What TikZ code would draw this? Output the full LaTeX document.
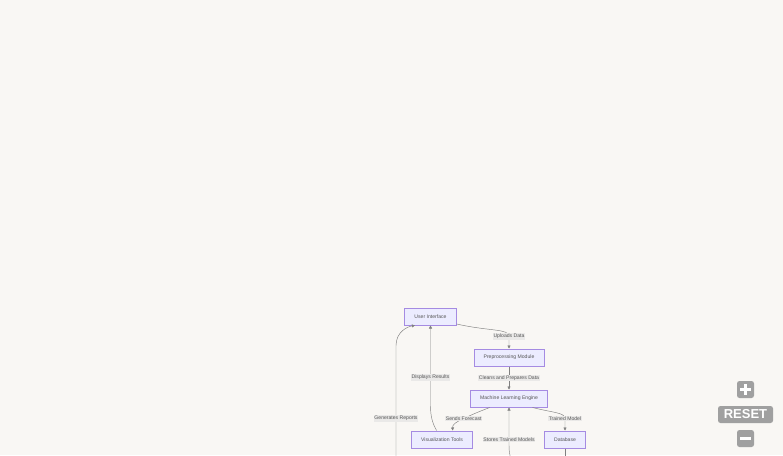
\documentclass[tikz,border=0pt]{standalone}
\usepackage{fontspec}
\setmainfont{Liberation Sans}
\usetikzlibrary{positioning,arrows.meta}

\definecolor{pagebg}{HTML}{F9F7F4}
\definecolor{boxfill}{HTML}{ECECFF}
\definecolor{boxline}{HTML}{A58BE2}
\definecolor{ink}{HTML}{555555}
\definecolor{wire}{HTML}{808080}
\definecolor{lblfill}{HTML}{EAE9E8}
\definecolor{btngrey}{HTML}{A0A0A0}

\tikzset{
  block/.style={draw=boxline, fill=boxfill, line width=0.6pt, minimum height=17.4pt,
    inner xsep=9.8pt, inner ysep=0pt, text=ink, font=\fontsize{5.1}{6}\selectfont},
  lbl/.style={fill=lblfill, inner sep=0.7pt, text=ink, font=\fontsize{5.1}{6}\selectfont},
  link/.style={draw=wire, line width=0.45pt, -{Triangle[length=3pt,width=3pt]}},
  btn/.style={fill=btngrey, rounded corners=2.5pt, inner sep=0pt}
}

\begin{document}
\begin{tikzpicture}[x=1pt,y=-1pt,node distance=41pt,on grid]
  \useasboundingbox[fill=pagebg] (0,0) rectangle (783,455);

  % nodes
  \node[block] (ui) at (430.5,316.5) {User Interface};
  \node[block, below right=41pt and 78.5pt of ui] (prep) {Preprocessing Module};
  \node[block, below=of prep] (mle) {Machine Learning Engine};
  \node[block, below left=41pt and 67pt of mle] (vis) {Visualization Tools};
  \node[block, below right=41pt and 56pt of mle] (db) {Database};

  % ends below the visible part
  \coordinate (reports) at (396,462);
  \coordinate (stores) at (511.5,462);
  \coordinate (dbout) at (565,462);

  % edges
  \draw[link] (ui.-16) .. controls (490,331.5) and (509,328.5) .. (509,336.5)
    node[lbl] {Uploads Data} -- (prep.north);
  \draw[link] (prep) -- node[lbl] {Cleans and Prepares Data} (mle);
  \draw[link] (mle.205) .. controls (474,413.5) and (468,416.5) .. (463.7,418.5)
    node[lbl] {Sends Forecast} .. controls (456,422) and (452.3,424.5) .. (vis.40);
  \draw[link] (mle.-21) .. controls (552,412.5) and (565,412.5) .. (565,418.5)
    node[lbl] {Trained Model} -- (db.north);
  \draw[link] (vis.121) .. controls (432,422.5) and (430.5,415.5) .. (430.5,405.5)
    -- (430.5,377.5) node[lbl] {Displays Results} -- (ui.south);
  \draw[link] (reports) -- (396,418.5) node[lbl] {Generates Reports}
    -- (396,345.5) .. controls (396,331.5) and (408,326.5) .. (ui.210);
  \draw[link] (stores) .. controls (509,452.5) and (509,449.5) .. (509,444.5)
    -- (509,439.5) node[lbl] {Stores Trained Models} -- (mle.south);
  \draw[draw=wire, line width=0.45pt] (db.south) -- (dbout);

  % zoom controls
  \node[btn, minimum width=17pt, minimum height=17pt] (zoomin) at (745.5,389.5) {};
  \draw[white, line width=2.8pt] ([xshift=-5.5pt]zoomin.center) -- ([xshift=5.5pt]zoomin.center)
    ([yshift=-5.5pt]zoomin.center) -- ([yshift=5.5pt]zoomin.center);
  \node[btn, minimum width=55pt, minimum height=17pt, text=white,
    font=\fontsize{13}{13}\selectfont\bfseries] (reset) at (745.5,414.5) {RESET};
  \node[btn, minimum width=17pt, minimum height=17pt] (zoomout) at (745.5,438.5) {};
  \draw[white, line width=2.8pt] ([xshift=-5.5pt]zoomout.center) -- ([xshift=5.5pt]zoomout.center);
\end{tikzpicture}
\end{document}
